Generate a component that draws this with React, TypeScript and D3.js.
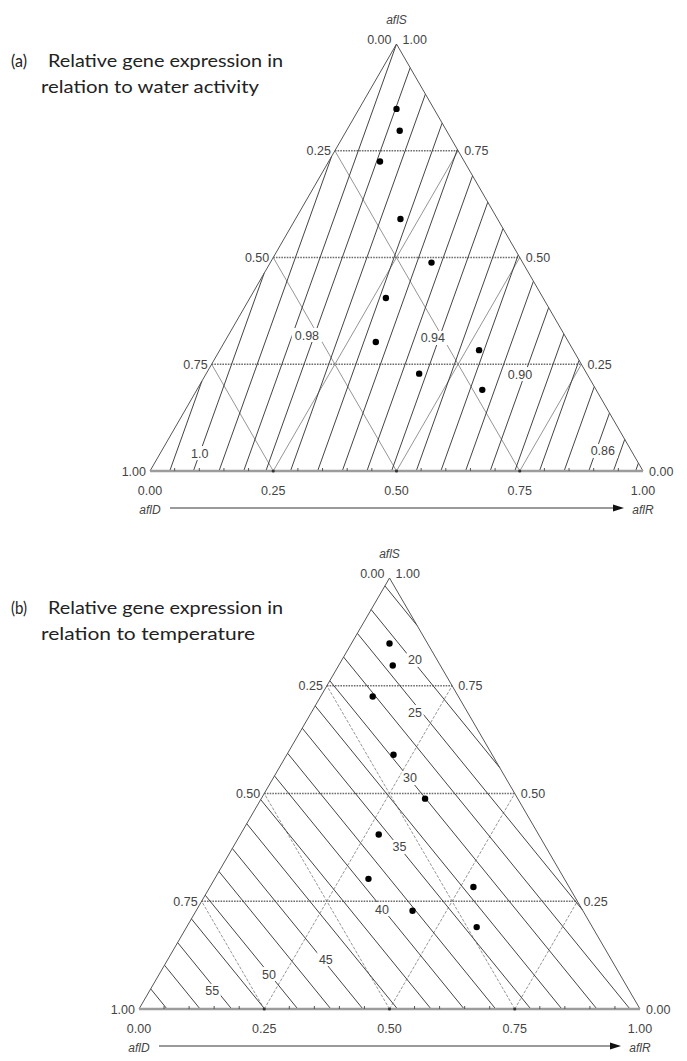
import React from 'react';
import * as d3 from 'd3';

// Compositions of the samples: aflR and aflS fractions (aflD = 1 - aflR - aflS)
const pointR = [0.076, 0.108, 0.104, 0.213, 0.327, 0.276, 0.307, 0.526, 0.432, 0.579];
const pointS = [0.848, 0.797, 0.725, 0.59, 0.488, 0.405, 0.302, 0.283, 0.228, 0.19];

const majorTicks = [0, 0.25, 0.5, 0.75, 1];
const majorLabels = ['0.00', '0.25', '0.50', '0.75', '1.00'];
const minorTicks = [0.05, 0.1, 0.15, 0.2, 0.3, 0.35, 0.4, 0.45, 0.55, 0.6, 0.65, 0.7, 0.8, 0.85, 0.9, 0.95];
const gridValues = [0.25, 0.5, 0.75];

// Water activity contours: lines aflR + slope*aflS = intercept
const waterSlope = 0.19;
const waterIntercepts = [0.04, 0.088, 0.14, 0.19, 0.235, 0.285, 0.34, 0.39, 0.44, 0.49, 0.54, 0.59, 0.64, 0.69, 0.74, 0.79, 0.84, 0.89, 0.94, 0.985];
const waterLabels = ['1.0', '0.98', '0.94', '0.90', '0.86'];
const waterLabelR = [0.080, 0.159, 0.418, 0.637, 0.895];
const waterLabelS = [0.042, 0.3185, 0.3115, 0.227, 0.047];

// Temperature contours: lines aflR + slope*aflS = intercept
const tempSlope = 1.2;
const tempIntercepts = [0.056, 0.122, 0.185, 0.251, 0.317, 0.383, 0.447, 0.516, 0.583, 0.649, 0.712, 0.782, 0.844, 0.914, 0.98, 1.046, 1.112, 1.178];
const tempLabels = ['20', '25', '30', '35', '40', '45', '50', '55'];
const tempLabelR = [0.146, 0.2065, 0.273, 0.332, 0.369, 0.315, 0.219, 0.125];
const tempLabelS = [0.81, 0.689, 0.536, 0.376, 0.232, 0.116, 0.081, 0.042];

type Frame = { left: number; right: number; bottom: number; top: number };

function clipLine(r0: number, k: number): [number, number][] | null {
  const pts: [number, number][] = [];
  const eps = 1e-9;
  const add = (r: number, s: number) => {
    if (r < -eps || s < -eps || r + s > 1 + eps) return;
    if (pts.some((p) => Math.abs(p[0] - r) < 1e-6 && Math.abs(p[1] - s) < 1e-6)) return;
    pts.push([r, s]);
  };
  if (r0 >= 0 && r0 <= 1) add(r0, 0);
  const sl = r0 / k;
  if (sl >= 0 && sl <= 1) add(0, sl);
  if (Math.abs(1 - k) > eps) {
    const sr = (1 - r0) / (1 - k);
    if (sr >= 0 && sr <= 1) add(1 - sr, sr);
  }
  return pts.length >= 2 ? [pts[0], pts[1]] : null;
}

const tickFont = '"Liberation Sans", Arial, sans-serif';
const titleFont = 'Lato, "Open Sans", sans-serif';

function Ternary(props: {
  frame: Frame;
  titleA: string;
  titleB: string;
  titleTag: string;
  titleY: number;
  titleBLength: number;
  slope: number;
  intercepts: number[];
  labels: string[];
  labelR: number[];
  labelS: number[];
  dashedGrid: boolean;
}) {
  const { frame, slope, intercepts, labels, labelR, labelS } = props;
  const x = d3.scaleLinear().domain([0, 1]).range([frame.left, frame.right]);
  const y = d3.scaleLinear().domain([0, 1]).range([frame.bottom, frame.top]);
  const P = (r: number, s: number): [number, number] => [x(r + s / 2), y(s)];
  const line = d3.line<[number, number]>();
  const apex = P(0, 1);
  const gridStroke = '#7a7a7a';
  const tFill = '#222';

  return (
    <g>
      {/* title */}
      <text x={11} y={props.titleY} fontFamily={titleFont} fontSize={17} fill={tFill} textLength={16} lengthAdjust="spacingAndGlyphs">
        {props.titleTag}
      </text>
      <text x={48} y={props.titleY} fontFamily={titleFont} fontSize={17} fill={tFill} textLength={235} lengthAdjust="spacingAndGlyphs">
        {props.titleA}
      </text>
      <text x={41} y={props.titleY + 26} fontFamily={titleFont} fontSize={17} fill={tFill} textLength={props.titleBLength} lengthAdjust="spacingAndGlyphs">
        {props.titleB}
      </text>

      {/* horizontal grid (aflS) */}
      {gridValues.map((s) => (
        <path
          key={'h' + s}
          d={line([P(0, s), P(1 - s, s)]) || ''}
          stroke="#6e6e6e"
          strokeWidth={1.3}
          strokeDasharray="1.6 1.1"
          fill="none"
        />
      ))}
      {/* grid lines of constant aflR */}
      {gridValues.map((r) => (
        <path
          key={'r' + r}
          d={line([P(r, 0), P(r, 1 - r)]) || ''}
          stroke={gridStroke}
          strokeWidth={0.8}
          strokeDasharray={props.dashedGrid ? '3 1.6' : undefined}
          fill="none"
        />
      ))}
      {/* grid lines of constant aflD */}
      {gridValues.map((dv) => (
        <path
          key={'d' + dv}
          d={line([P(1 - dv, 0), P(0, 1 - dv)]) || ''}
          stroke={gridStroke}
          strokeWidth={0.8}
          strokeDasharray={props.dashedGrid ? '3 1.6' : undefined}
          fill="none"
        />
      ))}

      {/* contour lines */}
      {intercepts.map((r0, i) => {
        const seg = clipLine(r0, slope);
        if (!seg) return null;
        return (
          <path
            key={'c' + i}
            d={line(seg.map((p) => P(p[0], p[1]))) || ''}
            stroke="#3a3a3a"
            strokeWidth={0.95}
            fill="none"
          />
        );
      })}

      {/* triangle sides */}
      <path d={line([P(0, 0), apex, P(1, 0)]) || ''} stroke="#555" strokeWidth={1} fill="none" />
      {/* bottom axis */}
      <path d={line([P(0, 0), P(1, 0)]) || ''} stroke="#9c9c9c" strokeWidth={2.6} fill="none" />
      {minorTicks.map((t) => (
        <path
          key={'mt' + t}
          d={line([P(t, 0), [x(t), frame.bottom - 3]]) || ''}
          stroke="#555"
          strokeWidth={1}
        />
      ))}
      {gridValues.map((t) => (
        <circle key={'md' + t} cx={x(t)} cy={frame.bottom} r={1.6} fill="#333" />
      ))}

      {/* contour labels with knock-out background */}
      {labels.map((lab, i) => {
        const [lx, ly] = P(labelR[i], labelS[i]);
        const w = lab.length * 6.6 + 4;
        return (
          <g key={'cl' + i}>
            <rect x={lx - w / 2} y={ly - 7} width={w} height={14} fill="#fff" />
            <text
              x={lx}
              y={ly + 4.5}
              textAnchor="middle"
              fontFamily={tickFont}
              fontSize={12.5}
              fill="#444"
            >
              {lab}
            </text>
          </g>
        );
      })}

      {/* data points */}
      {pointR.map((r, i) => {
        const [px, py] = P(r, pointS[i]);
        return <circle key={'p' + i} cx={px} cy={py} r={3.2} fill="#000" />;
      })}

      {/* apex labels */}
      <text x={apex[0]} y={frame.top - 20} textAnchor="middle" fontFamily={tickFont} fontStyle="italic" fontSize={12} fill="#444">
        aflS
      </text>
      <text x={apex[0] - 5} y={frame.top} textAnchor="end" fontFamily={tickFont} fontSize={12.5} fill="#444">
        0.00
      </text>
      <text x={apex[0] + 6} y={frame.top} textAnchor="start" fontFamily={tickFont} fontSize={12.5} fill="#444">
        1.00
      </text>

      {/* left side labels (aflD) */}
      {majorTicks.slice(0, 4).map((s, i) => {
        const [lx, ly] = P(0, s);
        return (
          <text key={'ll' + i} x={lx - 4} y={ly + 4.5} textAnchor="end" fontFamily={tickFont} fontSize={12.5} fill="#444">
            {majorLabels[4 - i]}
          </text>
        );
      })}
      {/* right side labels (aflS) */}
      {majorTicks.slice(0, 4).map((s, i) => {
        const [lx, ly] = P(1 - s, s);
        return (
          <text key={'rl' + i} x={lx + 6} y={ly + 4.5} textAnchor="start" fontFamily={tickFont} fontSize={12.5} fill="#444">
            {majorLabels[i]}
          </text>
        );
      })}
      {/* bottom labels (aflR) */}
      {majorTicks.map((t, i) => (
        <text key={'bl' + i} x={x(t)} y={frame.bottom + 24} textAnchor="middle" fontFamily={tickFont} fontSize={12.5} fill="#444">
          {majorLabels[i]}
        </text>
      ))}

      {/* axis arrow */}
      <path
        d={line([[x(0) + 20, frame.bottom + 37], [x(1) - 28, frame.bottom + 37]]) || ''}
        stroke="#9a9a9a"
        strokeWidth={1.8}
        fill="none"
      />
      <path
        d={`M${x(1) - 30},${frame.bottom + 33.5} L${x(1) - 19},${frame.bottom + 37} L${x(1) - 30},${frame.bottom + 40.5} Z`}
        fill="#111"
      />
      <text x={x(0)} y={frame.bottom + 43} textAnchor="middle" fontFamily={tickFont} fontStyle="italic" fontSize={12} fill="#444">
        aflD
      </text>
      <text x={x(1)} y={frame.bottom + 43} textAnchor="middle" fontFamily={tickFont} fontStyle="italic" fontSize={12} fill="#444">
        aflR
      </text>
    </g>
  );
}

export default function App() {
  return (
    <svg
      width={687}
      height={1061}
      style={{ position: 'absolute', left: 0, top: 0, background: '#fff' }}
    >
      <rect x={0} y={0} width={687} height={1061} fill="#fff" />
      <Ternary
        frame={{ left: 150, right: 643, bottom: 471, top: 44 }}
        titleTag="(a)"
        titleA="Relative gene expression in"
        titleB="relation to water activity"
        titleY={67}
        titleBLength={218}
        slope={waterSlope}
        intercepts={waterIntercepts}
        labels={waterLabels}
        labelR={waterLabelR}
        labelS={waterLabelS}
        dashedGrid={false}
      />
      <Ternary
        frame={{ left: 139, right: 640, bottom: 1009, top: 578 }}
        titleTag="(b)"
        titleA="Relative gene expression in"
        titleB="relation to temperature"
        titleY={614}
        titleBLength={214}
        slope={tempSlope}
        intercepts={tempIntercepts}
        labels={tempLabels}
        labelR={tempLabelR}
        labelS={tempLabelS}
        dashedGrid={true}
      />
    </svg>
  );
}
